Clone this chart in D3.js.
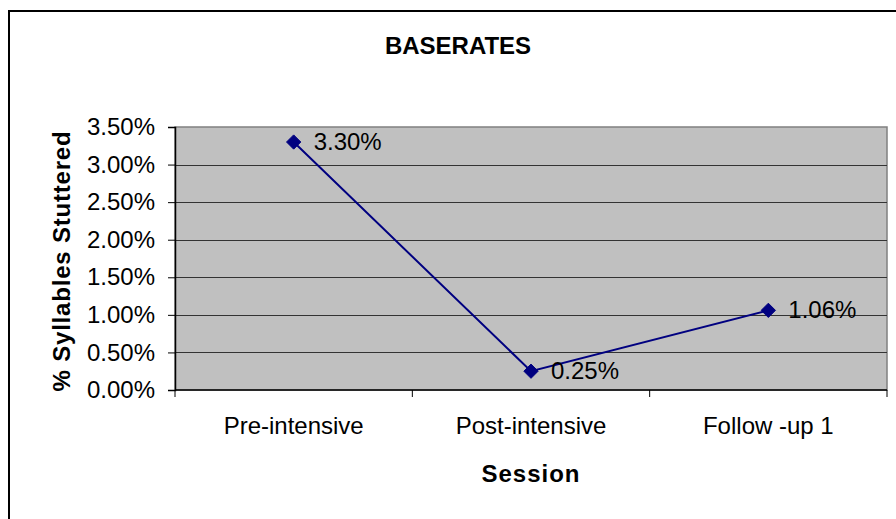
<!DOCTYPE html>
<html>
<head>
<meta charset="utf-8">
<script src="https://cdn.jsdelivr.net/npm/d3@7/dist/d3.min.js"></script>
<style>
  html, body { margin: 0; padding: 0; background: #fff; }
  svg { display: block; }
  text { font-family: Arial, "Liberation Sans", sans-serif; fill: #000; }
</style>
</head>
<body>
<svg id="chart" width="896" height="519"></svg>
<script>
// Stuttering baserates per session
const sessions = ["Pre-intensive", "Post-intensive", "Follow -up 1"];
const percentStuttered = [3.30, 0.25, 1.06];
const yTicks = [0, 0.5, 1.0, 1.5, 2.0, 2.5, 3.0, 3.5];

const svg = d3.select("#chart");
const W = 896, H = 519;
const plot = { left: 175, top: 127, right: 887, bottom: 390 };

// outer chart frame
svg.append("rect")
  .attr("x", 9).attr("y", 11)
  .attr("width", W + 20).attr("height", H + 20)
  .attr("fill", "#fff").attr("stroke", "#000").attr("stroke-width", 2);

const x = d3.scaleBand().domain(sessions).range([plot.left, plot.right]).padding(0);
const y = d3.scaleLinear().domain([0, 3.5]).range([plot.bottom, plot.top]);

// plot area
svg.append("rect")
  .attr("x", plot.left).attr("y", plot.top)
  .attr("width", plot.right - plot.left).attr("height", plot.bottom - plot.top)
  .attr("fill", "#c0c0c0").attr("stroke", "#808080").attr("stroke-width", 1.5);

// gridlines
svg.append("g").selectAll("line")
  .data(yTicks.filter(d => d > 0 && d < 3.5))
  .join("line")
  .attr("x1", plot.left).attr("x2", plot.right)
  .attr("y1", d => Math.round(y(d)) + 0.5).attr("y2", d => Math.round(y(d)) + 0.5)
  .attr("stroke", "#333").attr("stroke-width", 1);

// y axis
const yAxis = svg.append("g")
  .attr("transform", `translate(${plot.left},0)`)
  .call(d3.axisLeft(y).tickValues(yTicks).tickSize(7).tickPadding(13)
    .tickFormat(d => d.toFixed(2) + "%"));
yAxis.select(".domain").attr("stroke", "#000").attr("stroke-width", 1.5);
yAxis.selectAll(".tick line").attr("stroke", "#000");
yAxis.selectAll("text").attr("font-size", 24).attr("font-family", "Arial, 'Liberation Sans', sans-serif").attr("fill", "#000");

// x axis: ticks on category boundaries
svg.append("line")
  .attr("x1", plot.left).attr("x2", plot.right)
  .attr("y1", plot.bottom).attr("y2", plot.bottom)
  .attr("stroke", "#000").attr("stroke-width", 1.5);
const boundaries = sessions.map(s => x(s)).concat([x.range()[1]]);
svg.append("g").selectAll("line")
  .data(boundaries)
  .join("line")
  .attr("x1", d => d).attr("x2", d => d)
  .attr("y1", plot.bottom).attr("y2", plot.bottom + 7)
  .attr("stroke", "#000");
svg.append("g").selectAll("text")
  .data(sessions)
  .join("text")
  .attr("x", d => x(d) + x.bandwidth() / 2)
  .attr("y", 434)
  .attr("text-anchor", "middle")
  .attr("font-size", 24)
  .text(d => d);

// series line
const pts = sessions.map((s, i) => [x(s) + x.bandwidth() / 2, y(percentStuttered[i])]);
svg.append("path")
  .attr("d", d3.line()(pts))
  .attr("fill", "none").attr("stroke", "#000080").attr("stroke-width", 2);

// diamond markers
svg.append("g").selectAll("path")
  .data(pts)
  .join("path")
  .attr("transform", d => `translate(${d[0]},${d[1]})`)
  .attr("d", d3.symbol(d3.symbolDiamond2, 130)())
  .attr("fill", "#000080").attr("stroke", "#000080").attr("stroke-width", 1);

// value labels
svg.append("g").selectAll("text")
  .data(pts)
  .join("text")
  .attr("x", d => d[0] + 20)
  .attr("y", d => d[1] + 8)
  .attr("font-size", 24)
  .text((d, i) => percentStuttered[i].toFixed(2) + "%");

// titles
svg.append("text")
  .attr("x", 458).attr("y", 54)
  .attr("text-anchor", "middle")
  .attr("font-size", 24).attr("font-weight", "bold")
  .text("BASERATES");

svg.append("text")
  .attr("transform", `translate(70,261) rotate(-90)`)
  .attr("text-anchor", "middle")
  .attr("font-size", 24).attr("font-weight", "bold")
  .attr("letter-spacing", 0.8)
  .text("% Syllables Stuttered");

svg.append("text")
  .attr("x", 531).attr("y", 482)
  .attr("text-anchor", "middle")
  .attr("font-size", 24).attr("font-weight", "bold")
  .attr("letter-spacing", 1)
  .text("Session");
</script>
</body>
</html>
